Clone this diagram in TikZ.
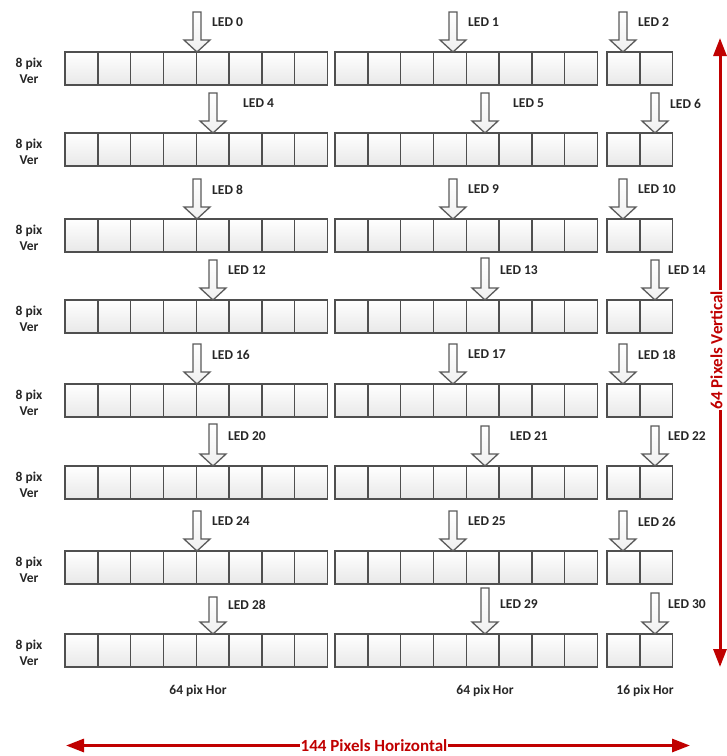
\documentclass[tikz,border=0pt]{standalone}
\usepackage{fontspec}
\setmainfont{Carlito}
\usetikzlibrary{arrows.meta,calc}
\definecolor{cellline}{HTML}{4F4F4F}
\definecolor{arrline}{HTML}{5A5A5A}
\definecolor{dimred}{HTML}{C00000}
\newcommand\ledarrow[6]{% name, tip x, tip y, label dx, label text, shaft length
  \coordinate (#1) at (#2,#3);
  \draw[blockarr] (#1) -- ++(-13,-12) -- ++(9,0) -- ++(0,-#6) -- ++(8,0) -- ++(0,#6) -- ++(9,0) -- cycle;
  \node[ledlbl] (#1l) at ($(#1)+(#4,-29.5)$) {#5};
}
\begin{document}
\begin{tikzpicture}[x=1pt,y=-1pt,
  cell/.style={draw=cellline, line width=1.4pt, top color=white, bottom color=black!9,
    minimum width=32.8pt, minimum height=33pt, inner sep=0pt, outer sep=0pt, anchor=north west},
  blockarr/.style={draw=arrline, line width=1.3pt, top color=white, bottom color=black!6, line join=miter},
  ledlbl/.style={font=\bfseries\fontsize{13.5}{16}\selectfont, anchor=west, inner sep=0pt, text=black!85},
  sidelbl/.style={font=\bfseries\fontsize{13.5}{16}\selectfont, align=center, inner sep=0pt, text=black!85},
  botlbl/.style={font=\bfseries\fontsize{13.5}{16}\selectfont, inner sep=0pt, text=black!85},
  redline/.style={draw=dimred, line width=3pt, -{Triangle[length=18pt,width=13pt]}},
  redtxt/.style={font=\bfseries\fontsize{17}{20}\selectfont, text=dimred, fill=white, inner sep=1pt}
]
\useasboundingbox (0,0) rectangle (727,756);
\fill[white] (0,0) rectangle (727,756);

% rows of cells
\foreach \r/\ty in {0/52,1/133,2/219,3/300,4/384,5/466,6/551,7/634} {
  \foreach \c in {0,...,7} {
    \node[cell] (r\r a\c) at ({65+32.8*\c},\ty) {};
    \node[cell] (r\r b\c) at ({335+32.8*\c},\ty) {};
  }
  \foreach \c in {0,1} {
    \node[cell] (r\r c\c) at ({607+32.8*\c},\ty) {};
  }
  \node[sidelbl] (side\r) at (29,{\ty+19}) {8 pix\\Ver};
}

% LED arrows
\ledarrow{led0}{197}{52}{15}{LED 0}{28}
\ledarrow{led1}{453}{52}{15}{LED 1}{28}
\ledarrow{led2}{623}{52}{15}{LED 2}{28}
\ledarrow{led4}{213}{133}{30}{LED 4}{28}
\ledarrow{led5}{485}{133}{28}{LED 5}{28}
\ledarrow{led6}{655}{133}{15}{LED 6}{28}
\ledarrow{led8}{197}{219}{15}{LED 8}{28}
\ledarrow{led9}{453}{219}{15}{LED 9}{28}
\ledarrow{led10}{623}{219}{15}{LED 10}{28}
\ledarrow{led12}{213}{300}{15}{LED 12}{28}
\ledarrow{led13}{485}{300}{15}{LED 13}{30}
\ledarrow{led14}{655}{300}{13}{LED 14}{28}
\ledarrow{led16}{197}{384}{15}{LED 16}{28}
\ledarrow{led17}{453}{384}{15}{LED 17}{28}
\ledarrow{led18}{623}{384}{15}{LED 18}{28}
\ledarrow{led20}{213}{466}{15}{LED 20}{30}
\ledarrow{led21}{485}{466}{25}{LED 21}{28}
\ledarrow{led22}{655}{466}{13}{LED 22}{28}
\ledarrow{led24}{197}{551}{15}{LED 24}{28}
\ledarrow{led25}{453}{551}{15}{LED 25}{28}
\ledarrow{led26}{623}{551}{15}{LED 26}{28}
\ledarrow{led28}{213}{634}{15}{LED 28}{25}
\ledarrow{led29}{485}{634}{15}{LED 29}{34}
\ledarrow{led30}{655}{634}{13}{LED 30}{29}

% bottom labels
\node[botlbl] (hor1) at (198,691) {64 pix Hor};
\node[botlbl] (hor2) at (485,691) {64 pix Hor};
\node[botlbl] (hor3) at (645,691) {16 pix Hor};

% dimension arrows
\coordinate (hL) at (66,745.5);
\coordinate (hR) at (690,745.5);
\coordinate (hM) at (374,745.5);
\draw[redline] (hM) -- (hL);
\draw[redline] (hM) -- (hR);
\node[redtxt] (htxt) at (hM) {144 Pixels Horizontal};

\coordinate (vT) at (720,38);
\coordinate (vB) at (720,667);
\coordinate (vM) at (720,350);
\draw[redline] (vM) -- (vT);
\draw[redline] (vM) -- (vB);
\node[redtxt, rotate=90] (vtxt) at (716.5,350) {64 Pixels Vertical};
\end{tikzpicture}
\end{document}
